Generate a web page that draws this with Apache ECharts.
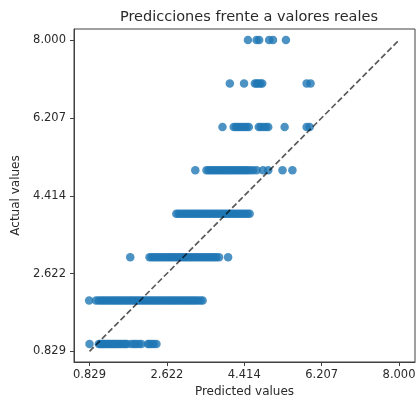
<!DOCTYPE html>
<html>
<head>
<meta charset="utf-8">
<script src="https://cdn.jsdelivr.net/npm/echarts@6/dist/echarts.min.js"></script>
<style>html,body{margin:0;padding:0;background:#fff;}#c{width:416px;height:398px;}</style>
</head>
<body>
<div id="c"></div>
<script>
var tickValues = [0.829, 2.622, 4.414, 6.207, 8.000];
var diagonal = [0.829, 8.000];
var actualLevels = [1, 2, 3, 4, 5, 6, 7, 8];
var pred1 = [0.829, 1.045, 1.08, 1.11, 1.14, 1.17, 1.21, 1.24, 1.28, 1.31, 1.35, 1.39, 1.42, 1.46, 1.50, 1.54, 1.58, 1.62, 1.66, 1.70, 1.80, 1.86, 1.91, 1.97, 2.03, 2.18, 2.22, 2.27, 2.32, 2.38];
var pred2 = [0.82, 0.98, 1.04, 1.09, 1.14, 1.19, 1.24, 1.29, 1.34, 1.39, 1.44, 1.49, 1.54, 1.59, 1.64, 1.69, 1.74, 1.79, 1.84, 1.89, 1.94, 1.99, 2.04, 2.09, 2.14, 2.19, 2.24, 2.29, 2.34, 2.39, 2.44, 2.49, 2.54, 2.59, 2.64, 2.69, 2.74, 2.79, 2.84, 2.89, 2.94, 2.99, 3.04, 3.09, 3.14, 3.19, 3.24, 3.29, 3.34, 3.40, 3.45];
var pred3 = [1.773, 2.22, 2.27, 2.32, 2.37, 2.42, 2.47, 2.52, 2.57, 2.62, 2.67, 2.72, 2.77, 2.82, 2.87, 2.92, 2.97, 3.02, 3.07, 3.12, 3.17, 3.22, 3.27, 3.32, 3.37, 3.42, 3.47, 3.52, 3.57, 3.62, 3.67, 3.72, 3.77, 3.83, 4.04];
var pred4 = [2.84, 2.89, 2.94, 2.99, 3.04, 3.09, 3.14, 3.19, 3.24, 3.29, 3.34, 3.39, 3.44, 3.49, 3.54, 3.59, 3.64, 3.69, 3.74, 3.79, 3.84, 3.89, 3.94, 3.99, 4.04, 4.09, 4.14, 4.19, 4.24, 4.29, 4.34, 4.39, 4.44, 4.49, 4.54];
var pred5 = [3.28, 3.54, 3.59, 3.64, 3.69, 3.74, 3.79, 3.84, 3.89, 3.94, 3.99, 4.04, 4.09, 4.14, 4.19, 4.24, 4.29, 4.34, 4.39, 4.44, 4.49, 4.55, 4.62, 4.70, 4.85, 4.97, 5.30, 5.53];
var pred6 = [3.91, 4.17, 4.22, 4.27, 4.32, 4.37, 4.42, 4.47, 4.52, 4.75, 4.80, 4.86, 4.92, 4.97, 5.35, 5.86, 5.93];
var pred7 = [4.08, 4.41, 4.66, 4.70, 4.74, 4.79, 4.83, 5.86, 5.95];
var pred8 = [4.50, 4.70, 4.76, 4.99, 5.08, 5.38];

var predByLevel = [pred1, pred2, pred3, pred4, pred5, pred6, pred7, pred8];
var points = [];
actualLevels.forEach(function (lvl, i) {
  predByLevel[i].forEach(function (p) { points.push([p, lvl]); });
});

var chart = echarts.init(document.getElementById('c'), null, {renderer: 'canvas'});
var font = 'DejaVu Sans';
var textColor = '#2a2a2a';
function fmt(v) { return Number(v).toFixed(3); }
chart.setOption({
  animation: false,
  backgroundColor: '#fff',
  title: {
    text: 'Predicciones frente a valores reales',
    left: 244, top: 5, textAlign: 'center',
    textStyle: {fontFamily: font, fontSize: 14.5, fontWeight: 'normal', color: textColor}
  },
  grid: {left: 74, right: 1, top: 29, bottom: 36, show: true, borderColor: '#404040', borderWidth: 1,
         backgroundColor: 'transparent', containLabel: false, outerBoundsMode: 'none'},
  xAxis: {
    type: 'value', min: 0.47, max: 8.37,
    name: 'Predicted values', nameLocation: 'middle', nameGap: 22,
    nameTextStyle: {fontFamily: font, fontSize: 12, color: textColor},
    axisLine: {show: true, onZero: false, lineStyle: {color: '#404040', width: 1}},
    axisTick: {show: true, length: 4, customValues: tickValues, lineStyle: {color: '#404040'}},
    axisLabel: {customValues: tickValues, formatter: fmt, fontFamily: font, fontSize: 11.5, color: textColor, margin: 7},
    splitLine: {show: false}
  },
  yAxis: {
    type: 'value', min: 0.585, max: 8.255,
    name: 'Actual values', nameLocation: 'middle', nameGap: 48, nameRotate: 90,
    nameTextStyle: {fontFamily: font, fontSize: 12, color: textColor},
    axisLine: {show: true, onZero: false, lineStyle: {color: '#404040', width: 1}},
    axisTick: {show: true, length: 4, customValues: tickValues, lineStyle: {color: '#404040'}},
    axisLabel: {customValues: tickValues, formatter: fmt, fontFamily: font, fontSize: 11.5, color: textColor, margin: 8},
    splitLine: {show: false}
  },
  series: [
    {
      type: 'scatter', data: points, symbolSize: 8.5,
      itemStyle: {color: '#1f77b4', opacity: 0.8}
    },
    {
      type: 'line', data: [[diagonal[0], diagonal[0]], [diagonal[1], diagonal[1]]],
      symbol: 'none', z: 5,
      lineStyle: {color: 'rgba(0,0,0,0.65)', width: 1.7, type: [6, 2.8]}
    }
  ]
});
</script>
</body>
</html>
